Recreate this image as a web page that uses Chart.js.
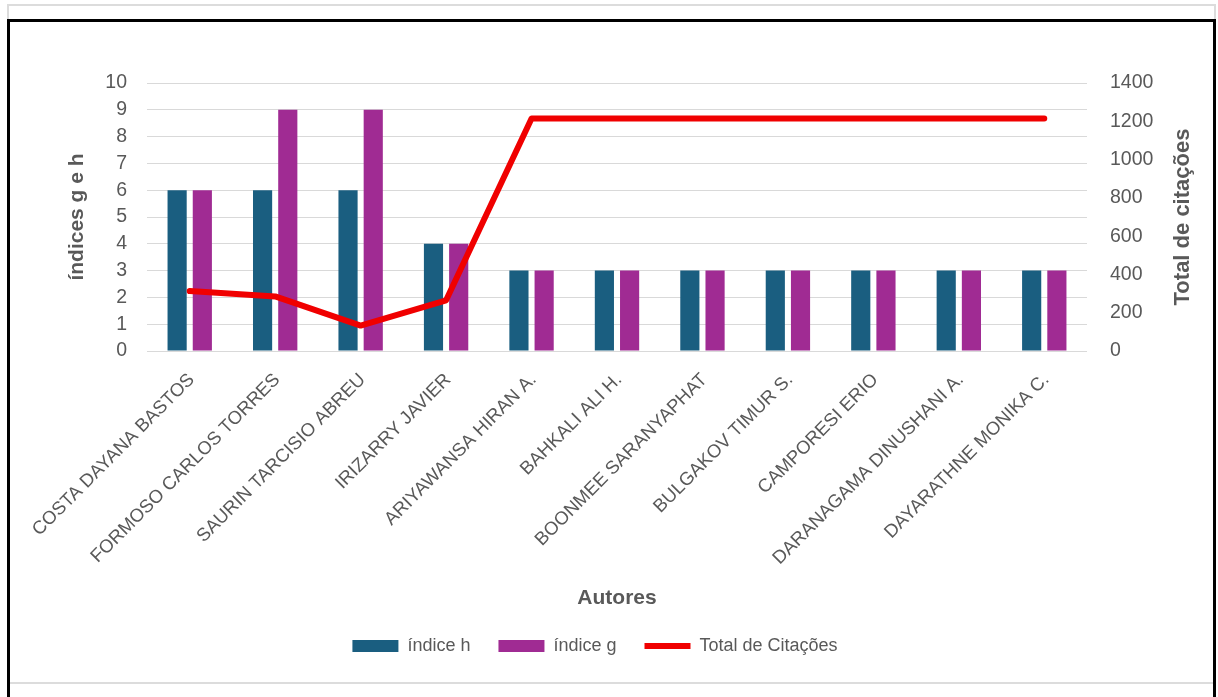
<!DOCTYPE html>
<html>
<head>
<meta charset="utf-8">
<script src="https://cdn.jsdelivr.net/npm/chart.js@4"></script>
<style>
  html, body { margin: 0; padding: 0; background: #fff; overflow: hidden; }
  .frame-gray { position: absolute; left: 7px; top: 4px; width: 1205px; height: 676px; border: 2px solid #dcdcdc; }
  .frame-black { position: absolute; left: 7px; top: 19px; width: 1203px; height: 700px; border: 3px solid #000; border-bottom: none; }
  #wrap { position: absolute; left: 0; top: 0; width: 1218px; height: 697px; }
</style>
</head>
<body>
<div class="frame-gray"></div>
<div class="frame-black"></div>
<div id="wrap"><canvas id="chart"></canvas></div>
<script>
const autores = [
  'COSTA DAYANA BASTOS',
  'FORMOSO CARLOS TORRES',
  'SAURIN TARCISIO ABREU',
  'IRIZARRY JAVIER',
  'ARIYAWANSA HIRAN A.',
  'BAHKALI ALI H.',
  'BOONMEE SARANYAPHAT',
  'BULGAKOV TIMUR S.',
  'CAMPORESI ERIO',
  'DARANAGAMA DINUSHANI A.',
  'DAYARATHNE MONIKA C.'
];
const indiceH = [6, 6, 6, 4, 3, 3, 3, 3, 3, 3, 3];
const indiceG = [6, 9, 9, 4, 3, 3, 3, 3, 3, 3, 3];
const totalCitacoes = [313, 285, 133, 265, 1215, 1215, 1215, 1215, 1215, 1215, 1215];

const grey = '#595959';
const fontFamily = '"Liberation Sans", Arial, sans-serif';

// right axis title reads bottom-to-top, so it is drawn here
const rightTitle = {
  id: 'rightTitle',
  afterDraw(chart) {
    const { ctx, chartArea } = chart;
    ctx.save();
    ctx.translate(1183, (chartArea.top + chartArea.bottom) / 2);
    ctx.rotate(-Math.PI / 2);
    ctx.font = 'bold 22px ' + fontFamily;
    ctx.fillStyle = grey;
    ctx.textAlign = 'center';
    ctx.textBaseline = 'middle';
    ctx.fillText('Total de citações', 0, 0);
    ctx.restore();
  }
};

new Chart(document.getElementById('chart'), {
  type: 'bar',
  data: {
    labels: autores,
    datasets: [
      {
        label: 'índice h',
        data: indiceH,
        backgroundColor: '#1a5e80',
        borderWidth: 0,
        pointStyle: 'rect',
        yAxisID: 'y',
        order: 2,
        categoryPercentage: 0.59,
        barPercentage: 0.76
      },
      {
        label: 'índice g',
        data: indiceG,
        backgroundColor: '#a02b93',
        borderWidth: 0,
        pointStyle: 'rect',
        yAxisID: 'y',
        order: 2,
        categoryPercentage: 0.59,
        barPercentage: 0.76
      },
      {
        type: 'line',
        label: 'Total de Citações',
        data: totalCitacoes,
        borderColor: '#f00000',
        backgroundColor: '#f00000',
        borderWidth: 6,
        borderCapStyle: 'round',
        borderJoinStyle: 'round',
        pointRadius: 0,
        pointHoverRadius: 0,
        pointStyle: 'line',
        tension: 0,
        yAxisID: 'y1',
        order: 1
      }
    ]
  },
  options: {
    responsive: true,
    maintainAspectRatio: false,
    animation: false,
    layout: { padding: { top: 83, left: 10, right: 38, bottom: 32 } },
    plugins: {
      tooltip: { enabled: false },
      legend: {
        position: 'bottom',
        labels: {
          usePointStyle: true,
          pointStyleWidth: 46,
          boxHeight: 12,
          padding: 28,
          color: grey,
          font: { family: fontFamily, size: 18 },
          sort: (a, b) => a.datasetIndex - b.datasetIndex
        }
      }
    },
    scales: {
      x: {
        grid: { display: false },
        border: { display: false },
        ticks: {
          autoSkip: false,
          maxRotation: 45,
          minRotation: 45,
          padding: 10,
          labelOffset: 2,
          color: grey,
          font: { family: fontFamily, size: 18.5 }
        },
        title: {
          display: true,
          text: 'Autores',
          color: grey,
          font: { family: fontFamily, size: 21, weight: 'bold' },
          padding: { top: 0, bottom: -2 }
        },
        afterFit: s => { s.height = 258; }
      },
      y: {
        position: 'left',
        min: 0,
        max: 10,
        grid: { color: '#d9d9d9', lineWidth: 1, drawTicks: false },
        border: { display: false },
        ticks: {
          stepSize: 1,
          padding: 20,
          color: grey,
          font: { family: fontFamily, size: 19.5 }
        },
        title: {
          display: true,
          text: 'índices g e h',
          color: grey,
          font: { family: fontFamily, size: 21, weight: 'bold' },
          padding: { top: 55, bottom: 0 }
        },
        afterFit: s => { s.width = 137; }
      },
      y1: {
        position: 'right',
        min: 0,
        max: 1400,
        grid: { display: false, drawTicks: false },
        border: { display: false },
        ticks: {
          stepSize: 200,
          padding: 23,
          color: grey,
          font: { family: fontFamily, size: 19.5 },
          callback: v => String(v)
        },
        afterFit: s => { s.width = 93; }
      }
    }
  },
  plugins: [rightTitle]
});
</script>
</body>
</html>
